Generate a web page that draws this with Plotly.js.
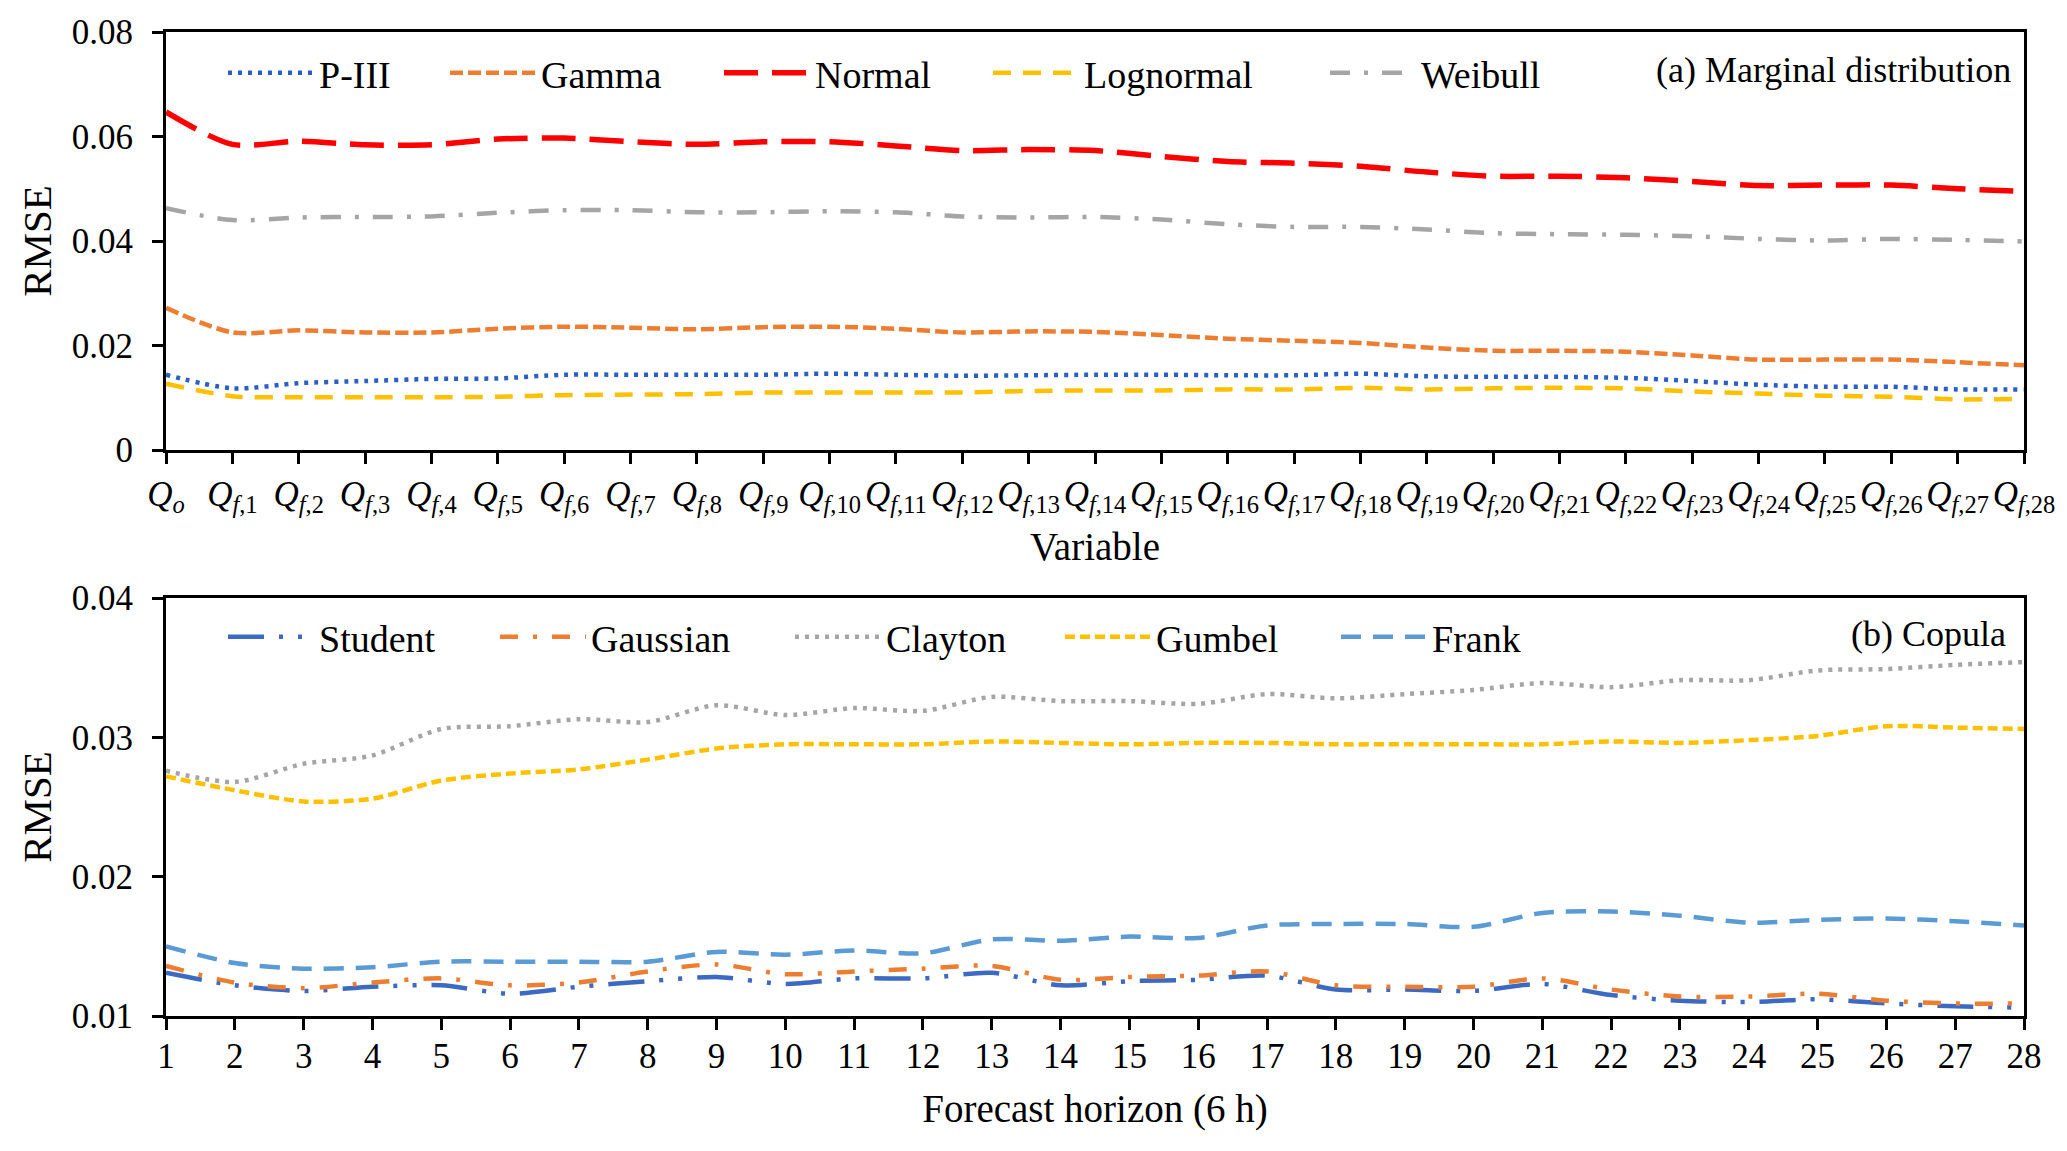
<!DOCTYPE html>
<html>
<head>
<meta charset="utf-8">
<script src="https://cdn.plot.ly/plotly-3.0.1.min.js"></script>
<style>html,body{margin:0;padding:0;background:#fff;}#chart{width:2067px;height:1151px;}</style>
</head>
<body>
<div id="chart"></div>
<script>
// ---------- Data: (a) marginal distributions ----------
const variableLabels = ['<i>Q</i><sub><i>o</i></sub>'].concat(
  Array.from({length: 28}, (_, i) => '<i>Q</i><sub><i>f</i>,' + (i + 1) + '</sub>'));

const pIII = [0.0144,0.0118,0.0128,0.0132,0.0136,0.0137,0.0144,0.0144,0.0144,0.0144,0.0146,0.0144,0.0142,0.0143,
  0.0144,0.0144,0.0143,0.0143,0.0146,0.0141,0.0140,0.0140,0.0138,0.0132,0.0125,0.0121,0.0121,0.0116,0.0116];
const gamma = [0.0272,0.0225,0.0229,0.0225,0.0225,0.0232,0.0236,0.0234,0.0231,0.0235,0.0236,0.0232,0.0225,0.0227,
  0.0226,0.0220,0.0213,0.0209,0.0205,0.0196,0.0190,0.0190,0.0188,0.0181,0.0173,0.0173,0.0173,0.0168,0.0162];
const normal = [0.0647,0.0585,0.0591,0.0584,0.0584,0.0595,0.0597,0.0590,0.0585,0.0590,0.0590,0.0582,0.0573,0.0575,
  0.0573,0.0562,0.0552,0.0549,0.0543,0.0532,0.0524,0.0524,0.0521,0.0514,0.0506,0.0507,0.0507,0.0500,0.0495];
const lognormal = [0.0127,0.0103,0.0101,0.0101,0.0101,0.0102,0.0105,0.0106,0.0107,0.0110,0.0110,0.0110,0.0110,0.0113,
  0.0114,0.0114,0.0116,0.0116,0.0119,0.0116,0.0118,0.0119,0.0118,0.0112,0.0108,0.0104,0.0102,0.0097,0.0098];
const weibull = [0.0463,0.0440,0.0445,0.0446,0.0447,0.0454,0.0459,0.0459,0.0455,0.0455,0.0457,0.0455,0.0447,0.0445,
  0.0446,0.0441,0.0432,0.0427,0.0427,0.0422,0.0415,0.0413,0.0412,0.0409,0.0404,0.0401,0.0404,0.0402,0.0399];

// ---------- Data: (b) copulas ----------
const horizons = Array.from({length: 28}, (_, i) => i + 1);
const student = [0.0131,0.0122,0.0118,0.0121,0.0122,0.0116,0.0121,0.0125,0.0128,0.0123,0.0127,0.0127,0.0131,
  0.0122,0.0125,0.0126,0.0129,0.0119,0.0119,0.0118,0.0123,0.0115,0.0111,0.0110,0.0112,0.0109,0.0107,0.0106];
const gaussian = [0.0136,0.0124,0.0120,0.0124,0.0127,0.0122,0.0124,0.0132,0.0137,0.0130,0.0132,0.0134,0.0136,
  0.0126,0.0128,0.0129,0.0132,0.0122,0.0121,0.0121,0.0127,0.0119,0.0114,0.0114,0.0116,0.0111,0.0109,0.0109];
const clayton = [0.0276,0.0268,0.0281,0.0287,0.0306,0.0308,0.0313,0.0311,0.0323,0.0316,0.0321,0.0319,0.0329,
  0.0326,0.0326,0.0324,0.0331,0.0328,0.0331,0.0334,0.0339,0.0336,0.0341,0.0341,0.0348,0.0349,0.0352,0.0354];
const gumbel = [0.0272,0.0262,0.0254,0.0256,0.0269,0.0274,0.0277,0.0284,0.0292,0.0295,0.0295,0.0295,0.0297,
  0.0296,0.0295,0.0296,0.0296,0.0295,0.0295,0.0295,0.0295,0.0297,0.0296,0.0298,0.0301,0.0308,0.0307,0.0306];
const frank = [0.0150,0.0138,0.0134,0.0135,0.0139,0.0139,0.0139,0.0139,0.0146,0.0144,0.0147,0.0145,0.0155,
  0.0154,0.0157,0.0156,0.0165,0.0166,0.0166,0.0164,0.0174,0.0175,0.0172,0.0167,0.0169,0.0170,0.0168,0.0165];

const FONT = 'Liberation Serif, Times New Roman, serif';
const FS = 35;
const LFS = 38;

function tr(x, y, name, color, dash, width, xa, ya, lg) {
  return {x: x, y: y, name: name, type: 'scatter', mode: 'lines', xaxis: xa, yaxis: ya, legend: lg,
          line: {color: color, dash: dash, width: width, shape: 'spline', smoothing: 0.8}};
}

const traces = [
  tr(variableLabels, pIII, 'P-III', '#2A5FC7', '4px,6px', 4.5, 'x', 'y', 'legend'),
  tr(variableLabels, gamma, 'Gamma', '#ED7D31', '13px,5px', 4.5, 'x', 'y', 'legend2'),
  tr(variableLabels, normal, 'Normal', '#FF0000', '34px,14px', 5.5, 'x', 'y', 'legend3'),
  tr(variableLabels, lognormal, 'Lognormal', '#FFC000', '18px,12px', 4.5, 'x', 'y', 'legend4'),
  tr(variableLabels, weibull, 'Weibull', '#A5A5A5', '20px,14px,4px,14px', 4.5, 'x', 'y', 'legend5'),
  tr(horizons, student, 'Student', '#3C69C2', '36px,15px,4px,15px,4px,15px', 4.5, 'x2', 'y2', 'legend6'),
  tr(horizons, gaussian, 'Gaussian', '#ED7D31', '18px,15px,4px,15px', 4.5, 'x2', 'y2', 'legend7'),
  tr(horizons, clayton, 'Clayton', '#A5A5A5', '4px,6px', 4.5, 'x2', 'y2', 'legend8'),
  tr(horizons, gumbel, 'Gumbel', '#FFC000', '10px,5px', 4.5, 'x2', 'y2', 'legend9'),
  tr(horizons, frank, 'Frank', '#5B9BD5', '20px,12px', 4.5, 'x2', 'y2', 'legend10')
];

// plot area geometry (px)
const L = 166, R = 43, T = 32, B = 135, W = 2067, H = 1151;
const PW = W - L - R, PH = H - T - B;
const px = v => (v - L) / PW;
const py = v => (H - B - v) / PH;

function lg(xStart, yCenter) {
  return {x: px(xStart - 5), y: py(yCenter), xanchor: 'left', yanchor: 'middle',
          bgcolor: 'rgba(0,0,0,0)', borderwidth: 0, itemwidth: 86,
          font: {family: FONT, size: LFS, color: '#000'}};
}

const axisCommon = {
  showline: true, linecolor: '#000', linewidth: 3, mirror: true,
  ticks: 'outside', ticklen: 11, tickwidth: 3, tickcolor: '#000',
  showgrid: false, zeroline: false,
  tickfont: {family: FONT, size: FS, color: '#000'}
};

const layout = {
  width: W, height: H,
  margin: {l: L, r: R, t: T, b: B},
  paper_bgcolor: '#fff', plot_bgcolor: '#fff',
  font: {family: FONT, size: FS, color: '#000'},
  showlegend: true,
  xaxis: Object.assign({}, axisCommon, {
    domain: [0, 1], anchor: 'y', type: 'category', range: [0, 28],
    title: {text: 'Variable', font: {family: FONT, size: 39}, standoff: 16}
  }),
  yaxis: Object.assign({}, axisCommon, {
    domain: [py(450), 1], anchor: 'x', range: [0, 0.08], dtick: 0.02, ticklabelstandoff: 12,
    title: {text: 'RMSE', font: {family: FONT, size: 41}, standoff: 8}
  }),
  xaxis2: Object.assign({}, axisCommon, {
    domain: [0, 1], anchor: 'y2', range: [1, 28], dtick: 1, ticklabelstandoff: -4,
    title: {text: 'Forecast horizon (6 h)', font: {family: FONT, size: 39}, standoff: 20}
  }),
  yaxis2: Object.assign({}, axisCommon, {
    domain: [0, py(598)], anchor: 'x2', range: [0.01, 0.04], dtick: 0.01, ticklabelstandoff: 12,
    title: {text: 'RMSE', font: {family: FONT, size: 41}, standoff: 8}
  }),
  legend: lg(228, 73), legend2: lg(450, 73), legend3: lg(724, 73), legend4: lg(993, 73), legend5: lg(1330, 73),
  legend6: lg(228, 637), legend7: lg(500, 637), legend8: lg(795, 637), legend9: lg(1065, 637), legend10: lg(1341, 637),
  annotations: [
    {text: '(a) Marginal distribution', xref: 'paper', yref: 'paper', x: px(2013), y: py(70),
     xanchor: 'right', yanchor: 'middle', showarrow: false, font: {family: FONT, size: 36, color: '#000'}},
    {text: '(b) Copula', xref: 'paper', yref: 'paper', x: px(2008), y: py(634),
     xanchor: 'right', yanchor: 'middle', showarrow: false, font: {family: FONT, size: 36, color: '#000'}}
  ]
};

Plotly.newPlot('chart', traces, layout, {displayModeBar: false, staticPlot: true});
</script>
</body>
</html>
